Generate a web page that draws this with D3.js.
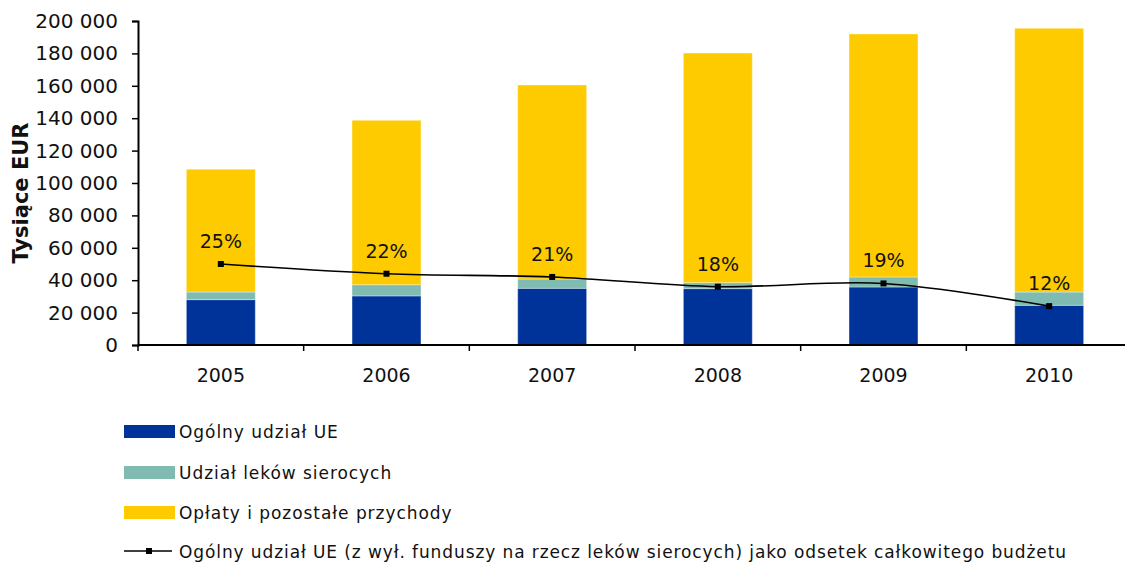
<!DOCTYPE html>
<html>
<head>
<meta charset="utf-8">
<script src="https://cdn.jsdelivr.net/npm/d3@7"></script>
<style>
  html, body { margin: 0; padding: 0; background: #fff; }
  svg { display: block; font-family: "DejaVu Sans", Verdana, sans-serif; }
</style>
</head>
<body>
<svg id="chart" width="1125" height="563"></svg>
<script>
// Budget by year, thousands of EUR
const years = ["2005", "2006", "2007", "2008", "2009", "2010"];
const euContribution = [28000, 30300, 35000, 34800, 35800, 24500];
const orphanContribution = [4700, 6900, 5700, 3700, 6200, 8200];
const feesAndOther = [75800, 101500, 119800, 141700, 150000, 162800];
const euSharePct = [25, 22, 21, 18, 19, 12];
const yTicks = [0, 20000, 40000, 60000, 80000, 100000, 120000, 140000, 160000, 180000, 200000];

const seriesNames = [
  "Ogólny udział UE",
  "Udział leków sierocych",
  "Opłaty i pozostałe przychody"
];
const lineName = "Ogólny udział UE (z wył. funduszy na rzecz leków sierocych) jako odsetek całkowitego budżetu";
const colors = ["#003399", "#7fbbb1", "#fdcb00"];

const svg = d3.select("#chart");
const plotLeft = 138, plotRight = 1132, plotTop = 21, plotBottom = 345;

const x = d3.scaleBand().domain(years).range([plotLeft, plotRight]).padding(0);
const y = d3.scaleLinear().domain([0, 200000]).range([plotBottom, plotTop]);
const yPct = d3.scaleLinear().domain([0, 100]).range([plotBottom, plotTop]);

const rows = years.map((yr, i) => ({
  year: yr,
  eu: euContribution[i],
  orphan: orphanContribution[i],
  fees: feesAndOther[i]
}));
const stack = d3.stack().keys(["eu", "orphan", "fees"]);
const layers = stack(rows);

const barW = x.step() * 0.416;

svg.append("g")
  .selectAll("g")
  .data(layers)
  .join("g")
  .attr("fill", (d, i) => colors[i])
  .selectAll("rect")
  .data(d => d)
  .join("rect")
  .attr("x", d => x(d.data.year) + x.bandwidth() / 2 - barW / 2)
  .attr("width", barW)
  .attr("y", d => y(d[1]))
  .attr("height", d => y(d[0]) - y(d[1]))
  .attr("stroke", "rgba(255,255,255,0.35)")
  .attr("stroke-width", 1);

// Y axis
const yAxis = svg.append("g")
  .attr("transform", `translate(${plotLeft},0)`)
  .call(d3.axisLeft(y).tickValues(yTicks).tickSize(6).tickPadding(14)
    .tickFormat(d => d3.format(",")(d).replace(/,/g, " ")));
yAxis.select(".domain").attr("stroke", "#000").attr("stroke-width", 2);
yAxis.selectAll(".tick line").attr("stroke", "#000").attr("stroke-width", 1.5);
yAxis.selectAll(".tick text").attr("font-size", 20).attr("fill", "#111")
  .attr("font-family", "DejaVu Sans, Verdana, sans-serif");

// X axis with ticks between categories
const xAxis = svg.append("g").attr("transform", `translate(0,${plotBottom})`);
xAxis.append("line").attr("x1", plotLeft).attr("x2", 1125).attr("stroke", "#000").attr("stroke-width", 2);
xAxis.selectAll("line.tk")
  .data(years)
  .join("line")
  .attr("class", "tk")
  .attr("x1", d => x(d)).attr("x2", d => x(d))
  .attr("y1", 0).attr("y2", 6)
  .attr("stroke", "#000").attr("stroke-width", 1.5);
xAxis.selectAll("text")
  .data(years)
  .join("text")
  .attr("x", d => x(d) + x.bandwidth() / 2)
  .attr("y", 37)
  .attr("text-anchor", "middle")
  .attr("font-size", 19)
  .attr("fill", "#111")
  .text(d => d);

// Y axis title
svg.append("text")
  .attr("transform", "translate(28,193) rotate(-90)")
  .attr("text-anchor", "middle")
  .attr("font-size", 21)
  .attr("font-weight", "bold")
  .attr("fill", "#111")
  .text("Tysiące EUR");

// Percentage line
const pts = years.map((yr, i) => [x(yr) + x.bandwidth() / 2, yPct(euSharePct[i])]);
svg.append("path")
  .attr("d", d3.line().curve(d3.curveCardinal.tension(0))(pts))
  .attr("fill", "none")
  .attr("stroke", "#000")
  .attr("stroke-width", 1.6);
svg.append("g")
  .selectAll("rect")
  .data(pts)
  .join("rect")
  .attr("x", d => d[0] - 3).attr("y", d => d[1] - 3)
  .attr("width", 6).attr("height", 6)
  .attr("fill", "#000");
svg.append("g")
  .selectAll("text")
  .data(years)
  .join("text")
  .attr("x", (d, i) => pts[i][0])
  .attr("y", (d, i) => pts[i][1] - 16)
  .attr("text-anchor", "middle")
  .attr("font-size", 19)
  .attr("fill", "#111")
  .text((d, i) => euSharePct[i] + "%");

// Legend
const legend = svg.append("g");
const legY = [431, 472, 512];
seriesNames.forEach((name, i) => {
  legend.append("rect")
    .attr("x", 124).attr("y", legY[i] - 6)
    .attr("width", 51).attr("height", 13)
    .attr("fill", colors[i]);
  legend.append("text")
    .attr("x", 179).attr("y", legY[i] + 7)
    .attr("font-size", 17)
    .attr("letter-spacing", 0.95)
    .attr("fill", "#111")
    .text(name);
});
legend.append("line")
  .attr("x1", 124).attr("x2", 172).attr("y1", 551).attr("y2", 551)
  .attr("stroke", "#000").attr("stroke-width", 1.6);
legend.append("rect")
  .attr("x", 146).attr("y", 548).attr("width", 6).attr("height", 6).attr("fill", "#000");
legend.append("text")
  .attr("x", 179).attr("y", 558)
  .attr("font-size", 17)
  .attr("letter-spacing", 0.9)
  .attr("fill", "#111")
  .text(lineName);
</script>
</body>
</html>
